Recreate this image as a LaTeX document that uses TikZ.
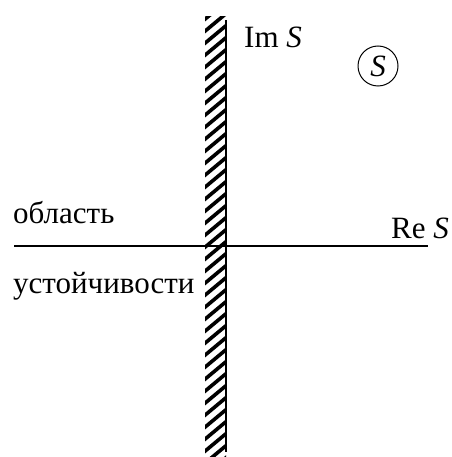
\documentclass[tikz,border=0pt]{standalone}
\usepackage{fontspec}
\setmainfont{Liberation Serif}
\tikzset{lbl/.style={inner sep=0pt,font=\fontsize{31}{36}\selectfont},axis/.style={line width=1.6pt},hatch/.style={line width=3.6pt}}

\begin{document}
\begin{tikzpicture}[x=1pt,y=-1pt]
\useasboundingbox (0,0) rectangle (451,457);
\coordinate (top) at (226,20); \coordinate (bot) at (226,452);
\coordinate (left) at (14,246); \coordinate (right) at (428,246);
\begin{scope}
\clip (205,17) rectangle (226,456);
\foreach \y in {0,12,...,456} \draw[hatch] (204,\y+20) -- (228,\y);
\end{scope}
\draw[axis] (top) -- (bot);
\draw[axis] (left) -- (right);
\node[lbl,anchor=west] (im) at (244,37) {Im \textit{S}};
\node[lbl,draw,circle,line width=1pt,minimum size=40pt] (s) at (378,66) {\textit{S}};
\node[lbl,anchor=west] (obl) at (13,213) {область};
\node[lbl,anchor=east] (re) at (449,228) {Re \textit{S}};
\node[lbl,anchor=west] (ust) at (13,286) {устойчивости};
\end{tikzpicture}
\end{document}
